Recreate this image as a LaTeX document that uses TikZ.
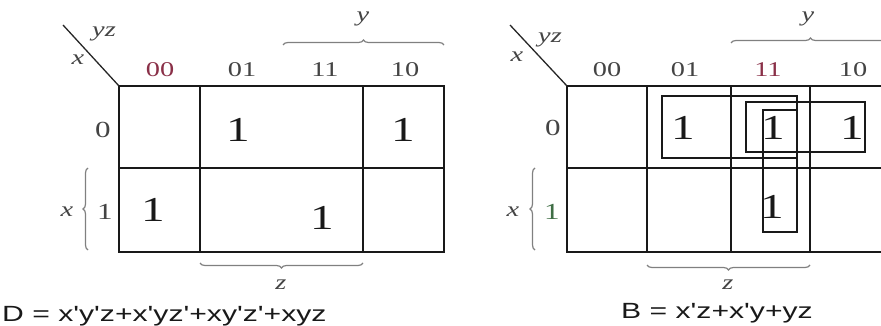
\documentclass[tikz,border=0pt]{standalone}
\usepackage{fontspec}
\setmainfont{Liberation Serif}
\newfontfamily\eqfont{Liberation Sans}
\usepackage{graphicx}
\usetikzlibrary{decorations.pathreplacing}
\newcommand\hstr[1]{\scalebox{1.35}[1]{#1}}
\newcommand\eqstr[1]{\scalebox{1.37}[1]{#1}}
\definecolor{labgray}{HTML}{444444}
\definecolor{maroonlab}{HTML}{8A3048}
\definecolor{greenlab}{HTML}{3F6E45}
\definecolor{bracegray}{HTML}{808080}
\begin{document}
\begin{tikzpicture}[x=1pt,y=-1pt,
  gridline/.style={line width=1.5pt, black!90},
  looprect/.style={line width=1.3pt, black!90},
  diag/.style={line width=1.3pt, black!85},
  brc/.style={decorate, decoration={brace, amplitude=5pt}, line width=1.2pt, bracegray},
  lab/.style={inner sep=0pt, text=labgray, font=\fontsize{21}{21}\selectfont},
  rowlab/.style={inner sep=0pt, text=labgray, font=\fontsize{23}{23}\selectfont},
  ital/.style={inner sep=0pt, text=labgray, font=\fontsize{21}{21}\selectfont\itshape},
  one/.style={inner sep=0pt, text=black!90, font=\fontsize{35}{35}\selectfont},
  eq/.style={inner sep=0pt, anchor=base west, text=black!90, font=\eqfont\fontsize{22}{22}\selectfont},
]
\useasboundingbox (0,0) rectangle (881,326);
\clip (0,0) rectangle (881,326);

% ---------------- left map ----------------
\coordinate (LNW) at (119,86);
\coordinate (LSE) at (444,252);
\draw[gridline] (LNW) rectangle (LSE);
\draw[gridline] (119,168) -- (444,168);
\draw[gridline] (200,86) -- (200,252);
\draw[gridline] (363,86) -- (363,252);
\coordinate (LD) at (63,25);
\draw[diag] (LD) -- (LNW);

\node[ital] (Lyz) at (104,34) {\hstr{yz}};
\node[ital] (Lx) at (78,60) {\hstr{x}};
\node[lab, text=maroonlab] (Lc00) at (160,70) {\hstr{00}};
\node[lab] (Lc01) at (242,70) {\hstr{01}};
\node[lab] (Lc11) at (325,70) {\hstr{11}};
\node[lab] (Lc10) at (405,70) {\hstr{10}};
\node[rowlab] (Lr0) at (103,130) {\hstr{0}};
\node[rowlab] (Lr1) at (105,212) {\hstr{1}};
\node[ital] (Lrx) at (67,212) {\hstr{x}};

\node[one] (L1a) at (238,130) {\hstr{1}};
\node[one] (L1b) at (403,130) {\hstr{1}};
\node[one] (L1c) at (153,210) {\hstr{1}};
\node[one] (L1d) at (322,218) {\hstr{1}};

\coordinate (LyA) at (283,45); \coordinate (LyB) at (444,45);
\draw[brc] (LyA) -- (LyB);
\node[ital] (Ly) at (363,19) {\hstr{y}};
\coordinate (LzA) at (363,263); \coordinate (LzB) at (200,263);
\draw[brc] (LzA) -- (LzB);
\node[ital] (Lz) at (281,285) {\hstr{z}};
\coordinate (LxA) at (88,250); \coordinate (LxB) at (88,168);
\draw[brc] (LxA) -- (LxB);

\node[eq] (Deq) at (2,321) {\eqstr{D = x'y'z+x'yz'+xy'z'+xyz}};

% ---------------- right map ----------------
\coordinate (RNW) at (567,86);
\coordinate (RSE) at (895,252);
\draw[gridline] (RNW) rectangle (RSE);
\draw[gridline] (567,168) -- (895,168);
\draw[gridline] (647,86) -- (647,252);
\draw[gridline] (731,86) -- (731,252);
\draw[gridline] (810,86) -- (810,252);
\coordinate (RD) at (510,25);
\draw[diag] (RD) -- (RNW);

\node[ital] (Ryz) at (550,40) {\hstr{yz}};
\node[ital] (Rx) at (517,57) {\hstr{x}};
\node[lab] (Rc00) at (607,70) {\hstr{00}};
\node[lab] (Rc01) at (685,70) {\hstr{01}};
\node[lab, text=maroonlab] (Rc11) at (768,70) {\hstr{11}};
\node[lab] (Rc10) at (853,70) {\hstr{10}};
\node[rowlab] (Rr0) at (553,128) {\hstr{0}};
\node[rowlab, text=greenlab] (Rr1) at (552,212) {\hstr{1}};
\node[ital] (Rrx) at (513,212) {\hstr{x}};

\node[one] (R1a) at (683,128) {\hstr{1}};
\node[one] (R1b) at (773,128) {\hstr{1}};
\node[one] (R1c) at (852,128) {\hstr{1}};
\node[one] (R1d) at (772,207) {\hstr{1}};

\draw[looprect] (662,96) rectangle (797,158);
\draw[looprect] (746,102) rectangle (865,152);
\draw[looprect] (763,110) rectangle (797,232);

\coordinate (RyA) at (731,43); \coordinate (RyB) at (890,43);
\draw[brc] (RyA) -- (RyB);
\node[ital] (Ry) at (808,19) {\hstr{y}};
\coordinate (RzA) at (810,265); \coordinate (RzB) at (647,265);
\draw[brc] (RzA) -- (RzB);
\node[ital] (Rz) at (728,285) {\hstr{z}};
\coordinate (RxA) at (535,250); \coordinate (RxB) at (535,168);
\draw[brc] (RxA) -- (RxB);

\node[eq] (Beq) at (621,318) {\eqstr{B = x'z+x'y+yz}};
\end{tikzpicture}
\end{document}
